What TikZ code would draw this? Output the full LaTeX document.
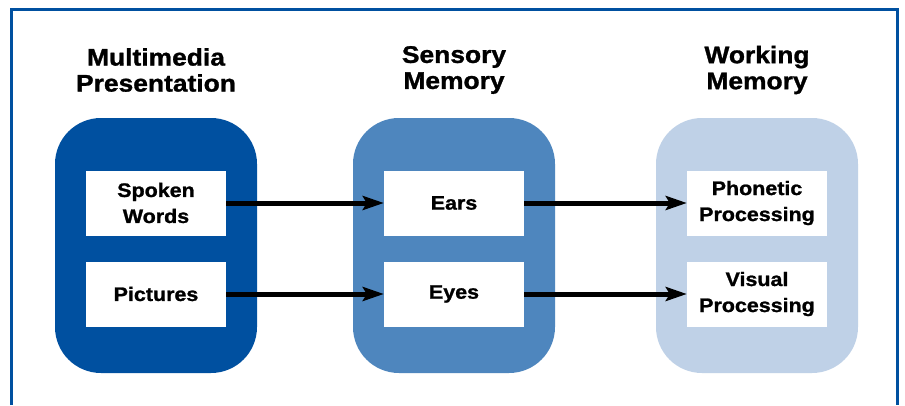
\documentclass[tikz,border=0pt]{standalone}
\usepackage{fontspec}
\setmainfont{Liberation Sans}[FakeStretch=1.1, BoldFeatures={FakeBold=1.2}]
\usetikzlibrary{arrows.meta}
\definecolor{frameblue}{RGB}{0,80,160}
\definecolor{darkblue}{RGB}{0,80,160}
\definecolor{midblue}{RGB}{78,134,190}
\definecolor{lightblue}{RGB}{191,209,231}
\tikzset{
  stage/.style={rounded corners=46pt, minimum width=202pt, minimum height=255pt, inner sep=0pt, draw=none},
  itembox/.style={fill=white, minimum width=140pt, minimum height=65pt, inner sep=0pt, align=center,
    font=\fontsize{19.5pt}{26pt}\selectfont\bfseries},
  header/.style={align=center, font=\fontsize{24pt}{26pt}\selectfont\bfseries, inner sep=0pt},
  flow/.style={line width=5pt, -{Stealth[length=21pt, width=14pt, inset=4pt]}},
}
\begin{document}
\begin{tikzpicture}[x=1pt, y=-1pt]
\useasboundingbox (0,0) rectangle (905,405);
\fill[white] (0,0) rectangle (905,405);
\draw[frameblue, line width=3pt] (11,405) -- (11,9) -- (897,9) -- (897,405);

\node[stage, fill=darkblue] (mm) at (156,245.5) {};
\node[stage, fill=midblue] (sm) at (454,245.5) {};
\node[stage, fill=lightblue] (wm) at (757,245.5) {};

\node[header] (hmm) at (156,70) {Multimedia\\Presentation};
\node[header] (hsm) at (454,70) {Sensory\\Memory};
\node[header] (hwm) at (757,70) {Working\\Memory};

\node[itembox] (words) at (156,203) {Spoken\\Words};
\node[itembox] (pics) at (156,294) {Pictures};
\node[itembox] (ears) at (454,203) {Ears};
\node[itembox] (eyes) at (454,294) {Eyes};
\node[itembox] (phon) at (757,203) {Phonetic\\Processing};
\node[itembox] (vis) at (757,294) {Visual\\Processing};

\draw[flow] (words) -- (ears);
\draw[flow] (pics) -- (eyes);
\draw[flow] (ears) -- (phon);
\draw[flow] (eyes) -- (vis);
\end{tikzpicture}
\end{document}
